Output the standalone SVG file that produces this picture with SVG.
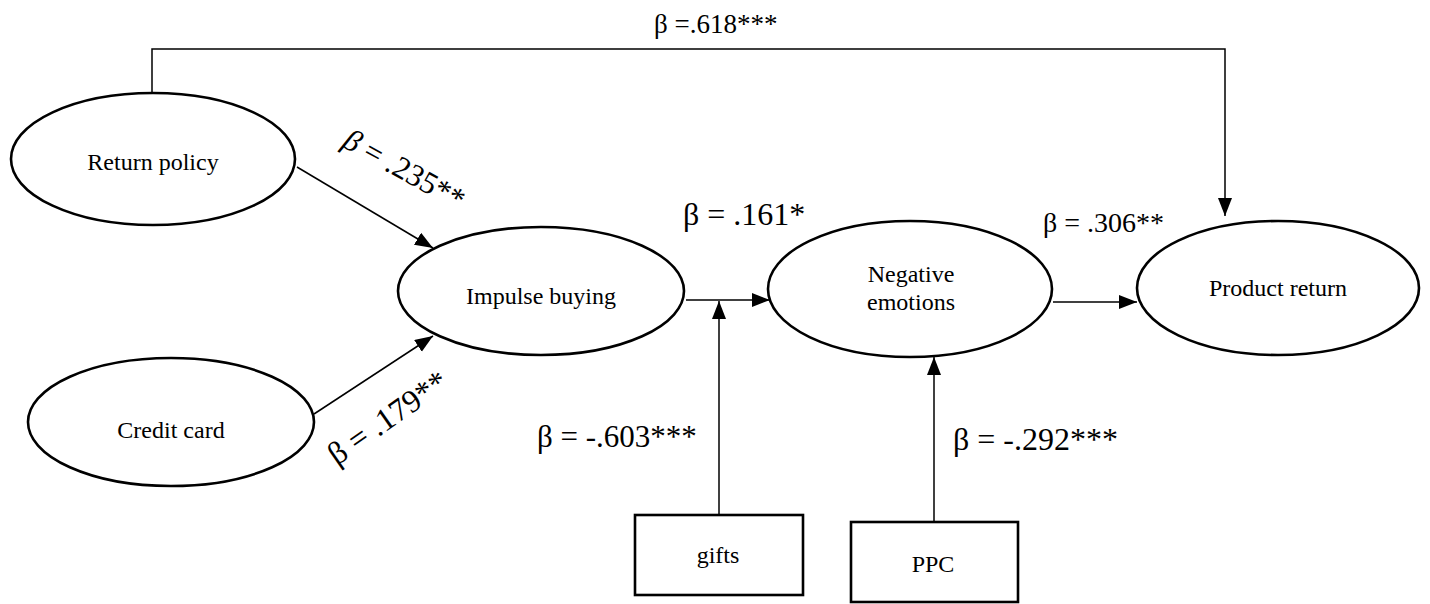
<svg xmlns="http://www.w3.org/2000/svg" width="1430" height="604" viewBox="0 0 1430 604">
<defs>
<marker id="ah" markerUnits="userSpaceOnUse" markerWidth="20" markerHeight="16" refX="18" refY="7" orient="auto"><path d="M0,0 L18,7 L0,14 z" fill="#000"/></marker>
<style>
.node{fill:#fff;stroke:#000;stroke-width:2.6}
.lbl{font-size:24px;fill:#000;text-anchor:middle}
.beta{fill:#000}
.conn{fill:none;stroke:#000;stroke-width:1.5}
</style>
</defs>
<rect width="1430" height="604" fill="#fff"/>
<g id="connectors">
<path class="conn" d="M152,96 V49 H1225 V216" marker-end="url(#ah)"/>
<path class="conn" d="M297,167 L433,248" marker-end="url(#ah)"/>
<path class="conn" d="M314,414 L433,336" marker-end="url(#ah)"/>
<path class="conn" d="M686,300 L770,300" marker-end="url(#ah)"/>
<path class="conn" d="M719,515 V301" marker-end="url(#ah)"/>
<path class="conn" d="M1053,302 L1137,302" marker-end="url(#ah)"/>
<path class="conn" d="M934,522 V357" marker-end="url(#ah)"/>
</g>
<g font-family="'Liberation Serif', 'Times New Roman', 'DejaVu Serif', serif">
<g id="return-policy"><ellipse class="node" cx="153" cy="159" rx="142" ry="66"/><text class="lbl" x="153" y="170">Return policy</text></g>
<g id="credit-card"><ellipse class="node" cx="171" cy="422" rx="143" ry="64"/><text class="lbl" x="171" y="438">Credit card</text></g>
<g id="impulse-buying"><ellipse class="node" cx="541" cy="291" rx="143" ry="64"/><text class="lbl" x="541" y="304">Impulse buying</text></g>
<g id="negative-emotions"><ellipse class="node" cx="910" cy="289" rx="142" ry="68"/><text class="lbl" x="911" y="282">Negative</text><text class="lbl" x="911" y="310">emotions</text></g>
<g id="product-return"><ellipse class="node" cx="1278" cy="288" rx="141" ry="67"/><text class="lbl" x="1278" y="296">Product return</text></g>
<g id="gifts"><rect class="node" x="635" y="515" width="168" height="80" stroke-width="3"/><text class="lbl" x="718" y="563">gifts</text></g>
<g id="ppc"><rect class="node" x="851" y="522" width="167" height="80" stroke-width="3"/><text class="lbl" x="933" y="572">PPC</text></g>
<g id="labels">
<text class="beta" x="654" y="33" font-size="27">β =.618***</text>
<text class="beta" transform="translate(341,146) rotate(29)" font-size="31"><tspan font-style="italic">β</tspan> = .235**</text>
<text class="beta" transform="translate(337,466) rotate(-35)" font-size="32">β = .179**</text>
<text class="beta" x="683" y="225" font-size="32">β = .161*</text>
<text class="beta" x="1043" y="232" font-size="28">β = .306**</text>
<text class="beta" x="537" y="447" font-size="31">β = -.603***</text>
<text class="beta" x="953" y="450" font-size="32">β = -.292***</text>
</g>
</g>
</svg>
